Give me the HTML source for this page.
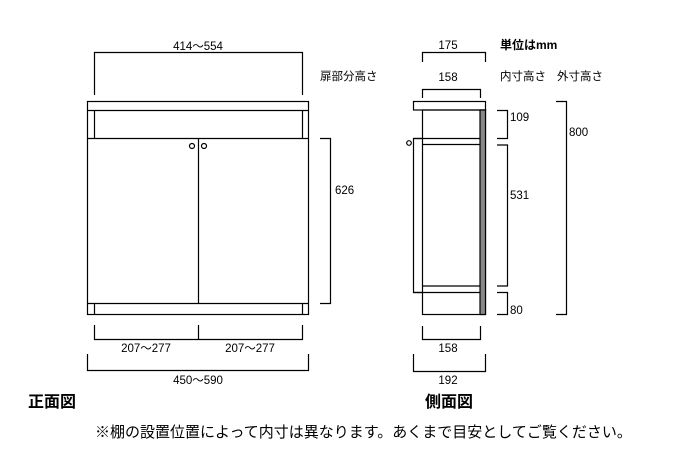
<!DOCTYPE html>
<html><head><meta charset="utf-8"><style>
body{margin:0;background:#fff;}
svg{display:block;}
text{font-family:"Liberation Sans","Noto Sans CJK JP",sans-serif;fill:#000;}
</style></head><body>
<svg width="700" height="453" viewBox="0 0 700 453" xmlns="http://www.w3.org/2000/svg">
<g fill="none" stroke="#000" stroke-width="1.2">
<!-- front view -->
<rect x="87.5" y="101.5" width="221" height="213"/>
<line x1="87.5" y1="110.5" x2="308.5" y2="110.5"/>
<line x1="94.5" y1="110.5" x2="94.5" y2="138.5"/>
<line x1="302.5" y1="110.5" x2="302.5" y2="138.5"/>
<line x1="87.5" y1="138.5" x2="308.5" y2="138.5"/>
<line x1="87.5" y1="303.5" x2="308.5" y2="303.5"/>
<line x1="94.5" y1="303.5" x2="94.5" y2="314.5"/>
<line x1="302.5" y1="303.5" x2="302.5" y2="314.5"/>
<line x1="198.5" y1="138.5" x2="198.5" y2="303.5"/>
<circle cx="192" cy="146" r="2.5"/>
<circle cx="204" cy="146" r="2.5"/>
<!-- front dims -->
<polyline points="94.5,95 94.5,52.5 302.5,52.5 302.5,95"/>
<polyline points="320,138.5 330.5,138.5 330.5,303.5 320,303.5"/>
<polyline points="94.5,325 94.5,339.5 302.5,339.5 302.5,325"/>
<line x1="198.5" y1="325" x2="198.5" y2="339.5"/>
<polyline points="87.5,354 87.5,370.5 308.5,370.5 308.5,354"/>
<!-- side view -->
<rect x="413.5" y="101.5" width="72" height="8.5"/>
<rect x="422.5" y="110" width="63" height="204.5"/>
<rect x="480" y="110" width="5.5" height="204.5" fill="#888"/>
<polyline points="422.5,138.5 413.5,138.5 413.5,292.5 422.5,292.5"/>
<line x1="413.5" y1="138.5" x2="480" y2="138.5"/>
<line x1="422.5" y1="144.5" x2="480" y2="144.5"/>
<line x1="422.5" y1="286" x2="480" y2="286"/>
<line x1="413.5" y1="292.5" x2="480" y2="292.5"/>
<circle cx="409" cy="143" r="2.3"/>
<!-- side dims -->
<polyline points="422.5,62 422.5,52.5 485.5,52.5 485.5,62"/>
<polyline points="422.5,98 422.5,89.5 480.5,89.5 480.5,98"/>
<polyline points="497,110.5 507.5,110.5 507.5,138.5 497,138.5"/>
<polyline points="497,145 507.5,145 507.5,286 497,286"/>
<polyline points="497,292.5 507.5,292.5 507.5,314.5 497,314.5"/>
<polyline points="556,101.5 566.5,101.5 566.5,314.5 556,314.5"/>
<polyline points="422.5,326 422.5,339.5 480.5,339.5 480.5,326"/>
<polyline points="413.5,354 413.5,371.5 485.5,371.5 485.5,354"/>
</g>
<g font-size="11.5">
<text x="198" y="50" text-anchor="middle">414～554</text>
<text x="335" y="194">626</text>
<text x="146" y="352" text-anchor="middle">207～277</text>
<text x="250" y="352" text-anchor="middle">207～277</text>
<text x="198" y="384" text-anchor="middle">450～590</text>
<text x="448" y="49" text-anchor="middle">175</text>
<text x="448" y="81" text-anchor="middle">158</text>
<text x="510" y="121">109</text>
<text x="510" y="199">531</text>
<text x="510" y="314">80</text>
<text x="569" y="136">800</text>
<text x="448" y="352" text-anchor="middle">158</text>
<text x="448" y="384" text-anchor="middle">192</text>
<text x="320" y="80">扉部分高さ</text>
<text x="500" y="80">内寸高さ</text>
<text x="557" y="80">外寸高さ</text>
<text x="500" y="49" font-weight="bold" font-size="12">単位はmm</text>
</g>
<text x="28" y="407" font-size="16" font-weight="bold">正面図</text>
<text x="425" y="407" font-size="16" font-weight="bold">側面図</text>
<text x="95" y="437" font-size="15">※棚の設置位置によって内寸は異なります。あくまで目安としてご覧ください。</text>
</svg>
</body></html>
